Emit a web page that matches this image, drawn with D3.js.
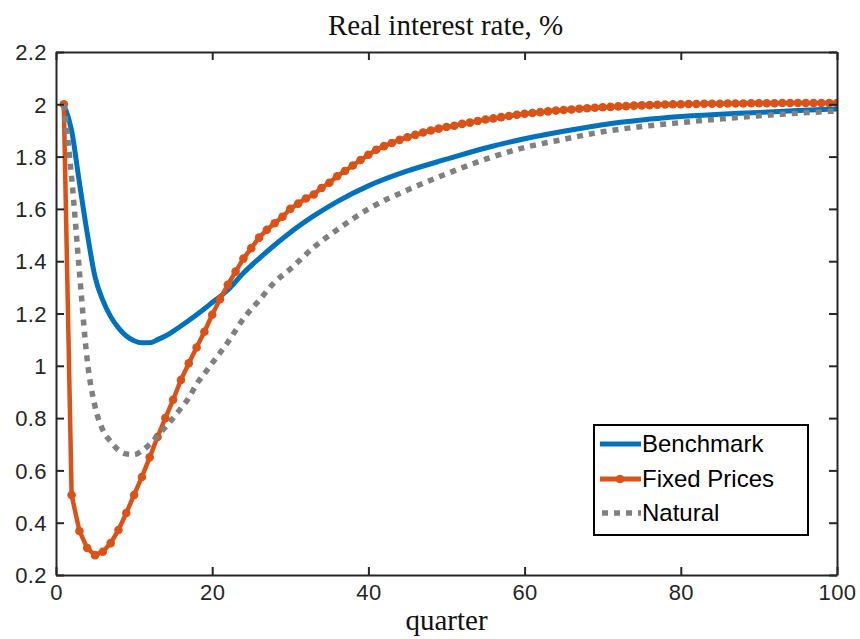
<!DOCTYPE html>
<html><head><meta charset="utf-8">
<script src="https://cdn.jsdelivr.net/npm/d3@7"></script>
<style>body{margin:0;background:#fff}</style>
</head><body>
<svg id="chart" width="860" height="639"></svg>
<script>
// ---- data ----
const title = "Real interest rate, %";
const xLabel = "quarter";
const xTicks = [0, 20, 40, 60, 80, 100];
const yTicks = [0.2, 0.4, 0.6, 0.8, 1, 1.2, 1.4, 1.6, 1.8, 2, 2.2];
const seriesNames = ["Benchmark", "Fixed Prices", "Natural"];

// Fixed Prices: one value per quarter 1..100
const fixedPrices = [
  2.000, 0.506, 0.368, 0.303, 0.276, 0.289, 0.322, 0.372, 0.437, 0.506,
  0.575, 0.650, 0.728, 0.800, 0.870, 0.946, 1.010, 1.070, 1.130, 1.195,
  1.255, 1.310, 1.360, 1.410, 1.450, 1.490, 1.520, 1.545, 1.570, 1.600,
  1.620, 1.640, 1.655, 1.680, 1.700, 1.725, 1.745, 1.766, 1.787, 1.807,
  1.826, 1.840, 1.852, 1.864, 1.874, 1.883, 1.892, 1.900, 1.907, 1.913,
  1.918, 1.925, 1.930, 1.936, 1.942, 1.946, 1.951, 1.955, 1.960, 1.964,
  1.967, 1.970, 1.973, 1.976, 1.978, 1.980, 1.983, 1.985, 1.987, 1.989,
  1.990, 1.992, 1.993, 1.995, 1.996, 1.997, 1.998, 1.999, 2.000, 2.000,
  2.001, 2.001, 2.002, 2.002, 2.002, 2.003, 2.003, 2.003, 2.004, 2.004,
  2.004, 2.004, 2.005, 2.005, 2.005, 2.005, 2.005, 2.005, 2.005, 2.005
];

const benchmarkQ = [1,2,3,4,5,6,7,8,9,10,11,12,13,14,15,16,17,18,19,20,22,24,26,28,30,33,36,40,45,50,55,60,65,70,75,80,85,90,95,100];
const benchmark  = [2.0,1.90,1.70,1.507,1.34,1.25,1.188,1.145,1.114,1.096,1.088,1.088,1.10,1.114,1.132,1.152,1.173,1.195,1.218,1.242,1.29,1.355,1.41,1.462,1.51,1.573,1.628,1.688,1.745,1.79,1.833,1.868,1.897,1.922,1.94,1.953,1.962,1.969,1.976,1.982];

const naturalQ = [1,2,3,4,5,6,7,8,9,10,11,12,13,14,15,16,17,18,19,20,22,24,26,28,30,33,36,40,45,50,55,60,65,70,75,80,85,90,95,100];
const natural  = [2.0,1.72,1.36,1.02,0.844,0.754,0.71,0.678,0.663,0.66,0.675,0.70,0.732,0.765,0.80,0.838,0.877,0.93,0.97,1.01,1.09,1.18,1.25,1.32,1.37,1.453,1.52,1.60,1.672,1.734,1.79,1.835,1.866,1.895,1.915,1.93,1.944,1.956,1.966,1.974];

const colors = ["#0072BD", "#D95319", "#808080"];

// ---- chart ----
const svg = d3.select("#chart");
const L = 56, R = 837, T = 52, B = 575;
const x = d3.scaleLinear().domain([0, 100]).range([L, R]);
const y = d3.scaleLinear().domain([0.2, 2.2]).range([B, T]);
const axisColor = "#262626";
const tickFont = "'Liberation Sans', Arial, sans-serif";
const serif = "'Liberation Serif', 'DejaVu Serif', serif";

svg.append("defs").append("clipPath").attr("id", "clip")
  .append("rect").attr("x", L).attr("y", T).attr("width", R - L).attr("height", B - T);

const bData = benchmarkQ.map((q, i) => [q, benchmark[i]]);
const fData = fixedPrices.map((v, i) => [i + 1, v]);
const nData = naturalQ.map((q, i) => [q, natural[i]]);

const lineC = d3.line().x(d => x(d[0])).y(d => y(d[1])).curve(d3.curveMonotoneX);
const lineL = d3.line().x(d => x(d[0])).y(d => y(d[1]));

const plot = svg.append("g").attr("clip-path", "url(#clip)");
plot.append("path").datum(bData).attr("d", lineC)
  .attr("fill", "none").attr("stroke", colors[0]).attr("stroke-width", 5);
plot.append("path").datum(fData).attr("d", lineL)
  .attr("fill", "none").attr("stroke", colors[1]).attr("stroke-width", 4.5).attr("stroke-linejoin", "round");
plot.selectAll("circle.fp").data(fData).join("circle").attr("class", "fp")
  .attr("cx", d => x(d[0])).attr("cy", d => y(d[1])).attr("r", 4.3).attr("fill", colors[1]);
plot.append("path").datum(nData).attr("d", lineC)
  .attr("fill", "none").attr("stroke", colors[2]).attr("stroke-width", 5.5)
  .attr("stroke-dasharray", "6,6");

// axes (box with inward ticks on all sides)
const tl = 8;
const axB = svg.append("g").attr("transform", `translate(0,${B})`)
  .call(d3.axisBottom(x).tickValues(xTicks).tickSizeInner(-tl).tickSizeOuter(0).tickPadding(10).tickFormat(d3.format("d")));
const axT = svg.append("g").attr("transform", `translate(0,${T})`)
  .call(d3.axisTop(x).tickValues(xTicks).tickSizeInner(-tl).tickSizeOuter(0).tickFormat(""));
const axL = svg.append("g").attr("transform", `translate(${L},0)`)
  .call(d3.axisLeft(y).tickValues(yTicks).tickSizeInner(-tl).tickSizeOuter(0).tickPadding(9).tickFormat(d => d3.format("~g")(d)));
const axR = svg.append("g").attr("transform", `translate(${R},0)`)
  .call(d3.axisRight(y).tickValues(yTicks).tickSizeInner(-tl).tickSizeOuter(0).tickFormat(""));
[axB, axT, axL, axR].forEach(g => {
  g.select(".domain").attr("stroke", axisColor).attr("stroke-width", 2);
  g.selectAll(".tick line").attr("stroke", axisColor).attr("stroke-width", 2);
  g.selectAll(".tick text").attr("fill", axisColor).attr("font-family", tickFont)
    .attr("font-size", 22).attr("letter-spacing", "0.4px");
});
axB.selectAll(".tick text").attr("dy", "0.7em");
axL.selectAll(".tick text").attr("dy", "0.35em");

// title and x label
svg.append("text").attr("x", (L + R) / 2 - 1).attr("y", 35).attr("text-anchor", "middle")
  .attr("font-family", serif).attr("font-size", 29).attr("fill", "#111").text(title);
svg.append("text").attr("x", (L + R) / 2).attr("y", 630).attr("text-anchor", "middle")
  .attr("font-family", serif).attr("font-size", 29).attr("fill", "#111").text(xLabel);

// legend
const lg = svg.append("g");
lg.append("rect").attr("x", 594).attr("y", 425).attr("width", 214).attr("height", 110)
  .attr("fill", "#fff").attr("stroke", "#000").attr("stroke-width", 2);
const rowY = [444, 479, 513];
seriesNames.forEach((name, i) => {
  const ln = lg.append("line").attr("x1", 600).attr("x2", 641).attr("y1", rowY[i]).attr("y2", rowY[i])
    .attr("stroke", colors[i]).attr("stroke-width", i === 2 ? 5.5 : 5);
  if (i === 2) ln.attr("stroke-dasharray", "6,6").attr("x1", 602);
  if (i === 1) lg.append("circle").attr("cx", 620).attr("cy", rowY[i]).attr("r", 4.3).attr("fill", colors[1]);
  lg.append("text").attr("x", 642).attr("y", rowY[i]).attr("dy", "0.35em")
    .attr("font-family", tickFont).attr("font-size", 24).attr("fill", "#000").text(name);
});
</script>
</body></html>
